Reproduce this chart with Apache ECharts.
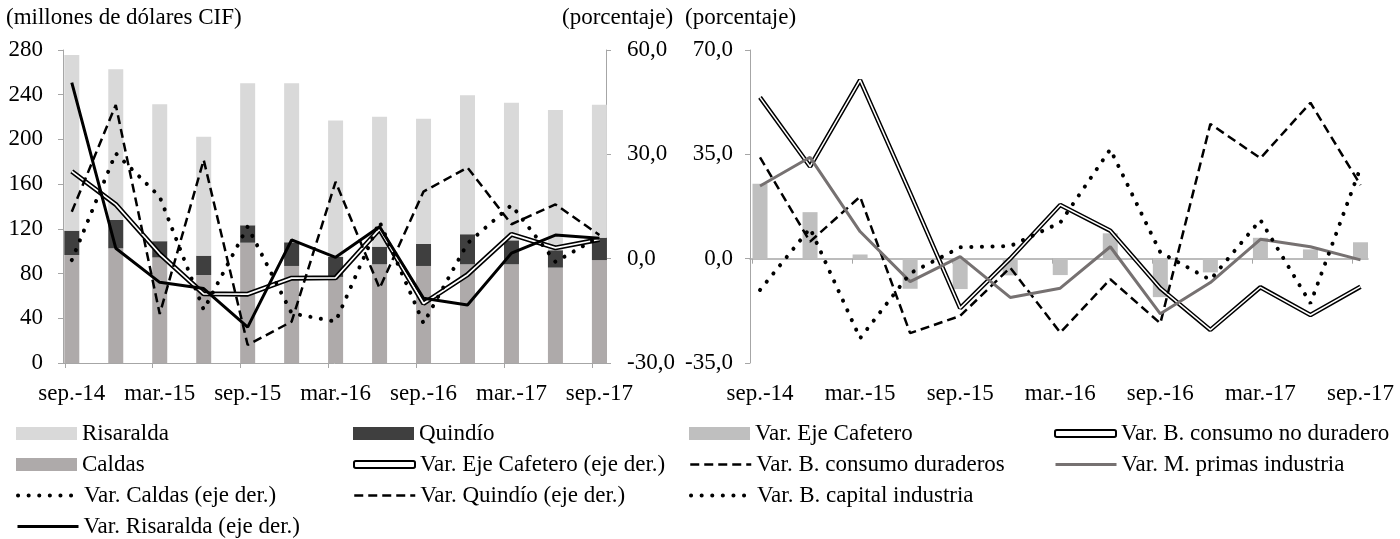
<!DOCTYPE html>
<html>
<head>
<meta charset="utf-8">
<script src="https://cdn.jsdelivr.net/npm/echarts@6/dist/echarts.min.js"></script>
<style>
  html, body { margin: 0; padding: 0; background: #fff; }
  #chart { width: 1400px; height: 539px; }
</style>
</head>
<body>
<div id="chart"></div>
<script>
  // periodos trimestrales
  const periodos = ['sep.-14','dic.-14','mar.-15','jun.-15','sep.-15','dic.-15','mar.-16','jun.-16','sep.-16','dic.-16','mar.-17','jun.-17','sep.-17'];

  // panel izquierdo: importaciones (millones US$ CIF)
  const caldas    = [96.6, 102.6, 94.4, 78.7, 107.6, 86.8, 77.0, 88.3, 86.8, 88.3, 88.3, 85.3, 92.1];
  const quindio   = [21.8, 25.3, 14.6, 17.3, 15.6, 21.2, 18.0, 15.8, 19.7, 26.9, 21.4, 15.6, 20.0];
  const risaralda = [157.1, 134.8, 122.4, 106.5, 127.0, 142.2, 122.0, 116.2, 112.1, 124.3, 123.2, 125.4, 119.0];

  // variaciones (%) eje derecho
  const varEje       = [25.1, 15.6, 1.4, -10.1, -10.2, -5.6, -5.5, 8.5, -12.9, -4.6, 7.0, 3.1, 5.5];
  const varCaldas    = [-0.4, 30.3, 17.8, -14.7, 9.2, -15.7, -18.1, 10.6, -18.6, 4.4, 15.4, -0.9, 6.3];
  const varQuindio   = [13.5, 44.2, -15.9, 28.4, -24.8, -18.1, 22.1, -8.5, 19.3, 26.2, 9.9, 15.6, 6.8];
  const varRisaralda = [50.6, 3.0, -6.8, -8.6, -19.7, 5.4, 0.4, 9.2, -11.4, -13.3, 1.6, 6.8, 5.9];

  // panel derecho: variaciones por uso (%)
  const noDuradero = [54.1, 30.9, 59.9, 22.0, -16.6, 0.0, 18.0, 9.4, -9.9, -23.9, -9.6, -18.9, -9.4];
  const duraderos  = [34.0, 5.7, 20.8, -25.0, -19.2, -3.0, -24.8, -6.9, -21.7, 45.2, 33.7, 52.3, 24.7];
  const mPrimas    = [24.4, 34.0, 9.1, -7.7, 0.7, -13.0, -9.9, 4.0, -18.5, -8.0, 6.5, 4.0, -0.4];
  const capital    = [-10.5, 10.2, -26.7, -4.9, 3.8, 4.2, 12.1, 36.7, 2.1, -7.1, 13.0, -15.0, 30.5];

  const FUENTE = '"Liberation Serif", "Times New Roman", serif';
  const GRIS_EJE = '#a6a6a6';
  const texto = { fontFamily: FUENTE, fontSize: 23, color: '#000' };

  const etiquetasX = [0, 2, 4, 6, 8, 10, 12];
  const marcasX = [-0.16, 1.84, 3.84, 5.84, 7.84, 9.84, 11.84];
  const pares = arr => arr.map((v, i) => [i, v]);
  // valor primero para que el apilado se haga sobre el eje y
  const paresBarra = arr => arr.map((v, i) => [v, i]);
  const coma = v => v.toFixed(1).replace('.', ',');

  const chart = echarts.init(document.getElementById('chart'));

  function ejeX(grid, extra) {
    return Object.assign({
      type: 'value', gridIndex: grid, min: -0.2, max: 12.15,
      splitLine: { show: false },
      axisLine: { show: true, onZero: false, lineStyle: { color: GRIS_EJE, width: 1 } },
      axisTick: { show: true, length: 5, customValues: marcasX, lineStyle: { color: GRIS_EJE } },
      axisLabel: Object.assign({ customValues: etiquetasX, margin: 19, formatter: v => periodos[Math.round(v)] }, texto)
    }, extra);
  }

  function ejeY(grid, pos, min, max, step, fmt, margin) {
    return {
      type: 'value', gridIndex: grid, position: pos, min: min, max: max, interval: step,
      splitLine: { show: false },
      axisLine: { show: true, onZero: false, lineStyle: { color: GRIS_EJE } },
      axisTick: { show: true, length: 5, lineStyle: { color: GRIS_EJE } },
      axisLabel: Object.assign({ margin: margin, formatter: fmt }, texto)
    };
  }

  const PUNTOS = [0.1, 10.5];
  const GUIONES = [9, 5];
  const estPunteada = { color: '#000', width: 4, type: PUNTOS, cap: 'round' };
  const estGuiones = { color: '#000', width: 2.5, type: GUIONES };

  function leyenda(item, x, yc, alto, estiloLinea) {
    if (typeof item === 'string') {
      // linea sin simbolo en la leyenda
      item = { name: item, itemStyle: { opacity: 0 }, lineStyle: estiloLinea };
    }
    return {
      data: [item], left: x, top: yc - 12, orient: 'vertical', padding: 0,
      itemWidth: 61, itemHeight: alto || 13, selectedMode: false,
      textStyle: texto
    };
  }

  const linea = (nombre, datos, estilo, ejes) => ({
    name: nombre, type: 'line', data: pares(datos), symbol: 'none',
    xAxisIndex: ejes[0], yAxisIndex: ejes[1], animation: false,
    lineStyle: estilo, itemStyle: { color: estilo.color }
  });

  const barra = (nombre, datos, color, ejes, pila) => ({
    name: nombre, type: 'bar', stack: pila, data: paresBarra(datos), encode: { x: 1, y: 0 },
    barWidth: 15, xAxisIndex: ejes[0], yAxisIndex: ejes[1], itemStyle: { color: color }
  });

  const filas = [434, 465, 496, 527];
  const cols = [16, 353, 689, 1054];
  const dobleIcono = { icon: 'roundRect', itemStyle: { color: '#fff', borderColor: '#000', borderWidth: 2 } };
  const solidaNegra = { color: '#000', width: 3, type: 'solid' };
  const solidaGris = { color: '#767171', width: 3, type: 'solid' };

  chart.setOption({
    animation: false,
    title: [
      { text: '(millones de dólares CIF)', left: 6, top: 6, padding: 0, textStyle: Object.assign({ fontWeight: 'normal' }, texto) },
      { text: '(porcentaje)', left: 562, top: 6, padding: 0, textStyle: Object.assign({ fontWeight: 'normal' }, texto) },
      { text: '(porcentaje)', left: 685, top: 6, padding: 0, textStyle: Object.assign({ fontWeight: 'normal' }, texto) }
    ],
    grid: [
      { left: 63, top: 50, width: 543, height: 313 },
      { left: 750, top: 50, width: 618, height: 313 }
    ],
    xAxis: [
      ejeX(0),
      ejeX(1, {
        axisLine: { show: true, onZero: true, lineStyle: { color: GRIS_EJE, width: 1.5 } },
        axisLabel: { show: false }
      }),
      ejeX(1, { position: 'bottom', axisLine: { show: false, onZero: false }, axisTick: { show: false } })
    ],
    yAxis: [
      ejeY(0, 'left', 0, 280, 40, v => v, 20),
      ejeY(0, 'right', -30, 60, 30, coma, 21),
      ejeY(1, 'left', -35, 70, 35, coma, 17)
    ],
    legend: [
      leyenda({ name: 'Risaralda', icon: 'rect' }, cols[0], filas[0]),
      leyenda({ name: 'Caldas', icon: 'rect' }, cols[0], filas[1]),
      leyenda('Var. Caldas (eje der.)', cols[0], filas[2], 13, estPunteada),
      leyenda('Var. Risaralda (eje der.)', cols[0], filas[3], 13, solidaNegra),
      leyenda({ name: 'Quindío', icon: 'rect' }, cols[1], filas[0]),
      leyenda(Object.assign({ name: 'Var. Eje Cafetero (eje der.)' }, dobleIcono), cols[1], filas[1], 7),
      leyenda('Var. Quindío (eje der.)', cols[1], filas[2], 13, estGuiones),
      leyenda({ name: 'Var. Eje Cafetero', icon: 'rect' }, cols[2], filas[0]),
      leyenda('Var. B. consumo duraderos', cols[2], filas[1], 13, estGuiones),
      leyenda('Var. B. capital industria', cols[2], filas[2], 13, estPunteada),
      leyenda(Object.assign({ name: 'Var. B. consumo no duradero' }, dobleIcono), cols[3], filas[0], 7),
      leyenda('Var. M. primas industria', cols[3], filas[1], 13, solidaGris)
    ],
    series: [
      // barras apiladas panel izquierdo
      barra('Caldas', caldas, '#aeaaaa', [0, 0], 'dep'),
      barra('Quindío', quindio, '#3f3f3f', [0, 0], 'dep'),
      barra('Risaralda', risaralda, '#d9d9d9', [0, 0], 'dep'),
      // lineas panel izquierdo
      linea('Var. Eje Cafetero (eje der.)', varEje, { color: '#000', width: 5 }, [0, 1]),
      linea('eje_interior', varEje, { color: '#fff', width: 1.7 }, [0, 1]),
      linea('Var. Caldas (eje der.)', varCaldas, estPunteada, [0, 1]),
      linea('Var. Quindío (eje der.)', varQuindio, estGuiones, [0, 1]),
      linea('Var. Risaralda (eje der.)', varRisaralda, solidaNegra, [0, 1]),
      // panel derecho
      barra('Var. Eje Cafetero', varEje, '#bfbfbf', [1, 2]),
      linea('Var. B. consumo no duradero', noDuradero, { color: '#000', width: 4.5 }, [1, 2]),
      linea('nodur_interior', noDuradero, { color: '#fff', width: 1.5 }, [1, 2]),
      linea('Var. B. consumo duraderos', duraderos, estGuiones, [1, 2]),
      linea('Var. M. primas industria', mPrimas, solidaGris, [1, 2]),
      linea('Var. B. capital industria', capital, estPunteada, [1, 2])
    ]
  });
</script>
</body>
</html>
